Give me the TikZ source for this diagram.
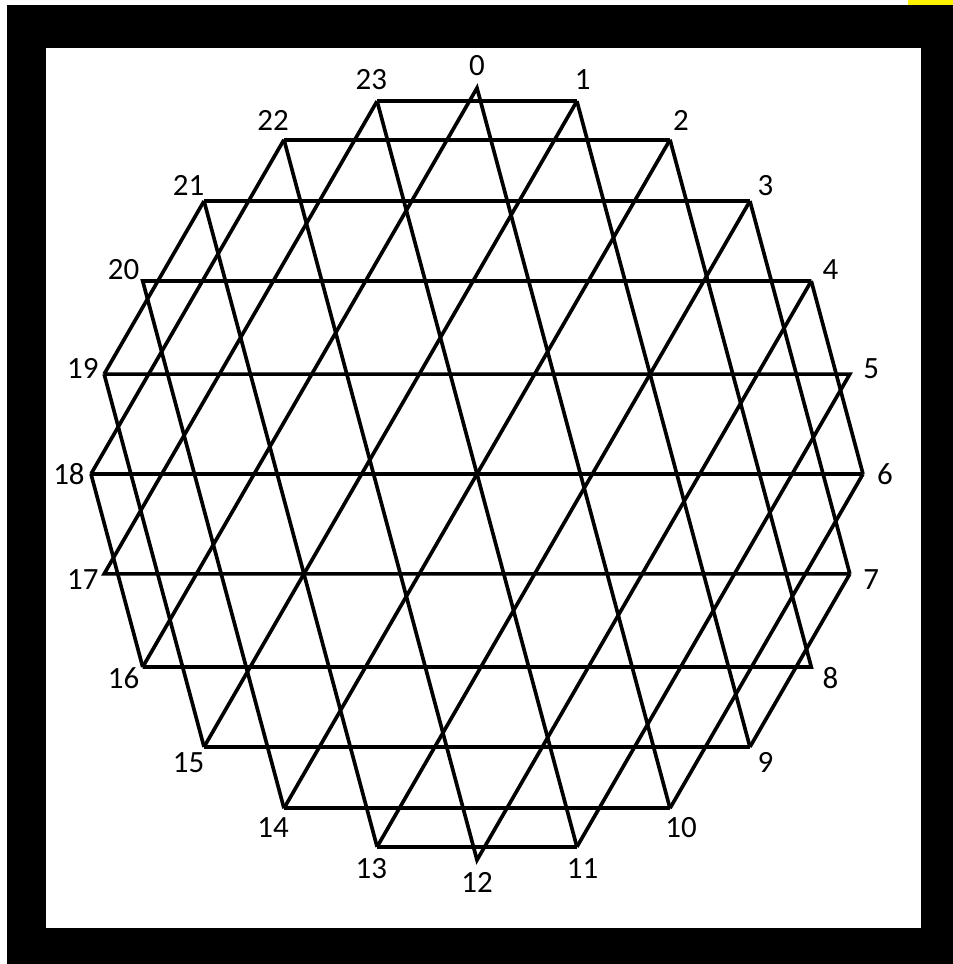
\documentclass[tikz,border=0pt]{standalone}
\usepackage{fontspec}
\setmainfont{Carlito}

\begin{document}
\begin{tikzpicture}[
  chord/.style={draw=black,line width=2.6pt,line join=miter},
  num/.style={font=\fontsize{22}{24}\selectfont,inner sep=0pt},
]
% page and black frame
\useasboundingbox (-11.925,-12.25) rectangle (11.9,11.85);
\fill[white] (-11.925,-12.25) rectangle (11.9,11.85);
\fill[black] (-11.75,-12.25) rectangle (11.9,11.725);
\fill[white] (-10.775,-11.35) rectangle (11.1,10.65);
\fill[yellow] (10.775,11.725) rectangle (11.9,11.85);

% 24 points on the circle
\coordinate (v0) at (90:9.65);
\coordinate (v1) at (75:9.65);
\coordinate (v2) at (60:9.65);
\coordinate (v3) at (45:9.65);
\coordinate (v4) at (30:9.65);
\coordinate (v5) at (15:9.65);
\coordinate (v6) at (0:9.65);
\coordinate (v7) at (-15:9.65);
\coordinate (v8) at (-30:9.65);
\coordinate (v9) at (-45:9.65);
\coordinate (v10) at (-60:9.65);
\coordinate (v11) at (-75:9.65);
\coordinate (v12) at (-90:9.65);
\coordinate (v13) at (-105:9.65);
\coordinate (v14) at (-120:9.65);
\coordinate (v15) at (-135:9.65);
\coordinate (v16) at (-150:9.65);
\coordinate (v17) at (-165:9.65);
\coordinate (v18) at (180:9.65);
\coordinate (v19) at (165:9.65);
\coordinate (v20) at (150:9.65);
\coordinate (v21) at (135:9.65);
\coordinate (v22) at (120:9.65);
\coordinate (v23) at (105:9.65);

% labels
\node[num] (n0) at (90:10.2) {0};
\node[num] (n1) at (75:10.2) {1};
\node[num] (n2) at (60:10.2) {2};
\node[num] (n3) at (45:10.2) {3};
\node[num] (n4) at (30:10.2) {4};
\node[num] (n5) at (15:10.2) {5};
\node[num] (n6) at (0:10.2) {6};
\node[num] (n7) at (-15:10.2) {7};
\node[num] (n8) at (-30:10.2) {8};
\node[num] (n9) at (-45:10.2) {9};
\node[num] (n10) at (-60:10.2) {10};
\node[num] (n11) at (-75:10.2) {11};
\node[num] (n12) at (-90:10.2) {12};
\node[num] (n13) at (-105:10.2) {13};
\node[num] (n14) at (-120:10.2) {14};
\node[num] (n15) at (-135:10.2) {15};
\node[num] (n16) at (-150:10.2) {16};
\node[num] (n17) at (-165:10.2) {17};
\node[num] (n18) at (180:10.2) {18};
\node[num] (n19) at (165:10.2) {19};
\node[num] (n20) at (150:10.2) {20};
\node[num] (n21) at (135:10.2) {21};
\node[num] (n22) at (120:10.2) {22};
\node[num] (n23) at (105:10.2) {23};

% tips
\draw[chord] (v16) -- (v0) -- (v10);
\draw[chord] (v4) -- (v12) -- (v22);
\draw[chord] (v16) -- (v8) -- (v2);
\draw[chord] (v4) -- (v20) -- (v14);
\draw[chord] (v19) -- (v5) -- (v11);
\draw[chord] (v7) -- (v17) -- (v23);

% horizontal chords
\draw[chord] (v1) -- (v23);
\draw[chord] (v2) -- (v22);
\draw[chord] (v3) -- (v21);
\draw[chord] (v6) -- (v18);
\draw[chord] (v9) -- (v15);
\draw[chord] (v10) -- (v14);
\draw[chord] (v11) -- (v13);

% rising chords
\draw[chord] (v1) -- (v15);
\draw[chord] (v2) -- (v14);
\draw[chord] (v3) -- (v13);
\draw[chord] (v6) -- (v10);
\draw[chord] (v7) -- (v9);
\draw[chord] (v18) -- (v22);
\draw[chord] (v19) -- (v21);

% steep chords
\draw[chord] (v1) -- (v9);
\draw[chord] (v3) -- (v7);
\draw[chord] (v4) -- (v6);
\draw[chord] (v11) -- (v23);
\draw[chord] (v13) -- (v21);
\draw[chord] (v15) -- (v19);
\draw[chord] (v16) -- (v18);
\end{tikzpicture}
\end{document}
